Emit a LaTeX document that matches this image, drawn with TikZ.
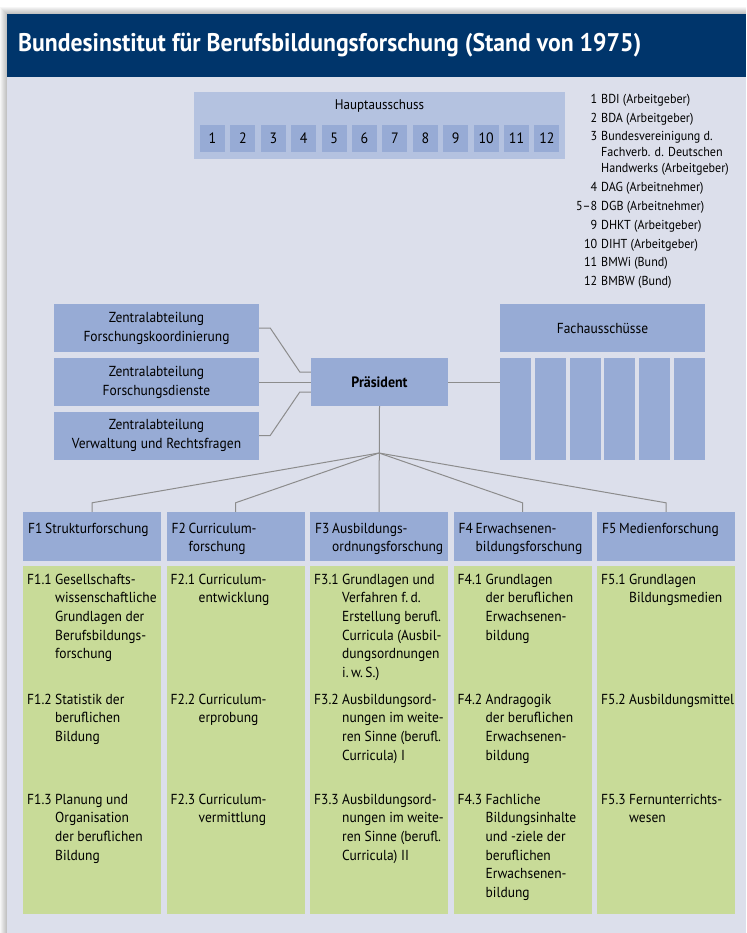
\documentclass[tikz,border=0pt]{standalone}
\usepackage{fontspec}
\setmainfont[FakeStretch=0.93]{PT Sans}
\usetikzlibrary{positioning,calc}
\definecolor{titleblue}{RGB}{0,53,107}
\definecolor{panelbg}{RGB}{220,223,235}
\definecolor{hauptbg}{RGB}{180,194,224}
\definecolor{boxblue}{RGB}{151,171,213}
\definecolor{fieldgreen}{RGB}{200,219,152}
\definecolor{linegray}{RGB}{140,140,140}
\tikzset{
  titlebar/.style={fill=titleblue, draw=none},
  hauptbox/.style={rectangle, fill=hauptbg, minimum width=371pt, minimum height=67pt, inner sep=0pt},
  hnum/.style={rectangle, fill=boxblue, minimum width=25pt, minimum height=27pt, inner sep=0pt, font=\fontsize{15}{18}\selectfont},
  zbox/.style={rectangle, fill=boxblue, minimum width=205pt, minimum height=48pt, inner sep=0pt, align=center, font=\fontsize{14.5}{19}\selectfont},
  chief/.style={rectangle, fill=boxblue, minimum width=137pt, minimum height=48pt, inner sep=0pt, font=\fontsize{15}{18}\selectfont\bfseries},
  fcol/.style={rectangle, fill=boxblue, minimum width=31pt, minimum height=102pt, inner sep=0pt},
  headbox/.style={rectangle, fill=boxblue, minimum width=138pt, minimum height=49pt, inner sep=0pt},
  fieldbox/.style={rectangle, fill=fieldgreen, minimum width=138pt, minimum height=348pt, inner sep=0pt},
  headtext/.style={anchor=base west, inner sep=0pt, font=\fontsize{14.5}{18.7}\selectfont},
  itemtext/.style={anchor=base west, inner sep=0pt, font=\fontsize{14.5}{18.7}\selectfont},
  legend/.style={anchor=north west, inner sep=0pt, font=\fontsize{13}{16}\selectfont},
  link/.style={draw=linegray, line width=1pt}
}
\newcommand{\fhead}[2]{\makebox[17pt][l]{#1}\parbox[t]{118pt}{\raggedright #2}}
\newcommand{\fitem}[2]{\makebox[28pt][l]{#1}\parbox[t]{110pt}{\raggedright #2}}
\newcommand{\lnum}[1]{\llap{#1\hspace{4pt}}}

\begin{document}
\begin{tikzpicture}[x=1pt,y=-1pt]
  \useasboundingbox (0,0) rectangle (746,933);
  \fill[white] (0,0) rectangle (746,933);
  % soft shadow round the panel
  \foreach \k in {1,...,7}
    \fill[black, opacity=0.035] ({7-\k},{14-\k}) rectangle (746,933);
  \fill[panelbg] (7,14) rectangle (746,933);
  \fill[titlebar] (7,14) rectangle (746,77);
  \node[anchor=west, inner sep=0pt, text=white, font=\fontsize{25.5}{28}\selectfont\bfseries] (title) at (18,45)
    {Bundesinstitut für Berufsbildungsforschung (Stand von 1975)};

  % Hauptausschuss
  \node[hauptbox] (haupt) at (379.5,125.5) {};
  \node[inner sep=0pt, font=\fontsize{14}{17}\selectfont] (hlabel) at (379.5,106) {Hauptausschuss};
  \foreach \i in {1,...,12}
    \node[hnum] (h\i) at ({212.5+(\i-1)*30.4},138.5) {\i};

  \node[legend] (members) at (601,92) {%
    \begin{tabular}{@{}l@{}}
      \lnum{1}BDI (Arbeitgeber)\\[2.8pt]
      \lnum{2}BDA (Arbeitgeber)\\[2.8pt]
      \lnum{3}Bundesvereinigung d.\\
        Fachverb. d. Deutschen\\
        Handwerks (Arbeitgeber)\\[2.8pt]
      \lnum{4}DAG (Arbeitnehmer)\\[2.8pt]
      \lnum{5--8}DGB (Arbeitnehmer)\\[2.8pt]
      \lnum{9}DHKT (Arbeitgeber)\\[2.8pt]
      \lnum{10}DIHT (Arbeitgeber)\\[2.8pt]
      \lnum{11}BMWi (Bund)\\[2.8pt]
      \lnum{12}BMBW (Bund)
    \end{tabular}};

  % Zentralabteilungen, Praesident, Fachausschuesse
  \node[zbox] (za1) at (156.5,328) {Zentralabteilung\\Forschungskoordinierung};
  \node[zbox] (za2) at (156.5,382) {Zentralabteilung\\Forschungsdienste};
  \node[zbox] (za3) at (156.5,435.5) {Zentralabteilung\\Verwaltung und Rechtsfragen};
  \node[chief] (praes) at (379.5,382) {Präsident};
  \node[zbox] (fach) at (602.5,328) {Fachausschüsse};
  \foreach \i in {1,...,6}
    \node[fcol] (fa\i) at ({515.5+(\i-1)*34.8},409) {};

  \draw[link] (za1.east) -- ++(11,0) -- ([xshift=-11pt,yshift=10pt]praes.west) -- ([yshift=10pt]praes.west);
  \draw[link] (za2.east) -- (praes.west);
  \draw[link] (za3.east) -- ++(11,0) -- ([xshift=-11pt,yshift=-10pt]praes.west) -- ([yshift=-10pt]praes.west);
  \draw[link] (praes.east) -- (praes.east -| fa1.west);

  % Forschungsabteilungen
  \foreach \i/\x in {1/92,2/235.5,3/379,4/522.5,5/666} {
    \node[headbox] (f\i) at (\x,536.5) {};
    \node[fieldbox] (g\i) at (\x,740) {};
  }
  \coordinate (fork) at (379,453);
  \draw[link] (praes.south) -- (f3.north);
  \foreach \i in {1,2,4,5}
    \draw[link] (fork) -- ([yshift=9pt]f\i.north) -- (f\i.north);

  \node[headtext] (f1t) at (28,533) {\fhead{F1}{Strukturforschung}};
  \node[headtext] (f2t) at (171.5,533) {\fhead{F2}{Curriculum-\\forschung}};
  \node[headtext] (f3t) at (315,533) {\fhead{F3}{Ausbildungs-\\ordnungsforschung}};
  \node[headtext] (f4t) at (458.5,533) {\fhead{F4}{Erwachsenen-\\bildungsforschung}};
  \node[headtext] (f5t) at (602,533) {\fhead{F5}{Medienforschung}};

  \node[itemtext] (i11) at (27,584) {\fitem{F1.1}{Gesellschafts-\\wissenschaftliche\\Grundlagen der\\Berufsbildungs-\\forschung}};
  \node[itemtext] (i12) at (27,704) {\fitem{F1.2}{Statistik der\\beruflichen\\Bildung}};
  \node[itemtext] (i13) at (27,804) {\fitem{F1.3}{Planung und\\Organisation\\der beruflichen\\Bildung}};

  \node[itemtext] (i21) at (170.5,584) {\fitem{F2.1}{Curriculum-\\entwicklung}};
  \node[itemtext] (i22) at (170.5,704) {\fitem{F2.2}{Curriculum-\\erprobung}};
  \node[itemtext] (i23) at (170.5,804) {\fitem{F2.3}{Curriculum-\\vermittlung}};

  \node[itemtext] (i31) at (314,584) {\fitem{F3.1}{Grundlagen und\\Verfahren f.\,d.\\Erstellung berufl.\\Curricula (Ausbil-\\dungsordnungen\\i.\,w.\,S.)}};
  \node[itemtext] (i32) at (314,704) {\fitem{F3.2}{Ausbildungsord-\\nungen im weite-\\ren Sinne (berufl.\\Curricula) I}};
  \node[itemtext] (i33) at (314,804) {\fitem{F3.3}{Ausbildungsord-\\nungen im weite-\\ren Sinne (berufl.\\Curricula) II}};

  \node[itemtext] (i41) at (457.5,584) {\fitem{F4.1}{Grundlagen\\der beruflichen\\Erwachsenen-\\bildung}};
  \node[itemtext] (i42) at (457.5,704) {\fitem{F4.2}{Andragogik\\der beruflichen\\Erwachsenen-\\bildung}};
  \node[itemtext] (i43) at (457.5,804) {\fitem{F4.3}{Fachliche\\Bildungsinhalte\\und -ziele der\\beruflichen\\Erwachsenen-\\bildung}};

  \node[itemtext] (i51) at (601,584) {\fitem{F5.1}{Grundlagen\\Bildungsmedien}};
  \node[itemtext] (i52) at (601,704) {\fitem{F5.2}{Ausbildungsmittel}};
  \node[itemtext] (i53) at (601,804) {\fitem{F5.3}{Fernunterrichts-\\wesen}};
\end{tikzpicture}
\end{document}
